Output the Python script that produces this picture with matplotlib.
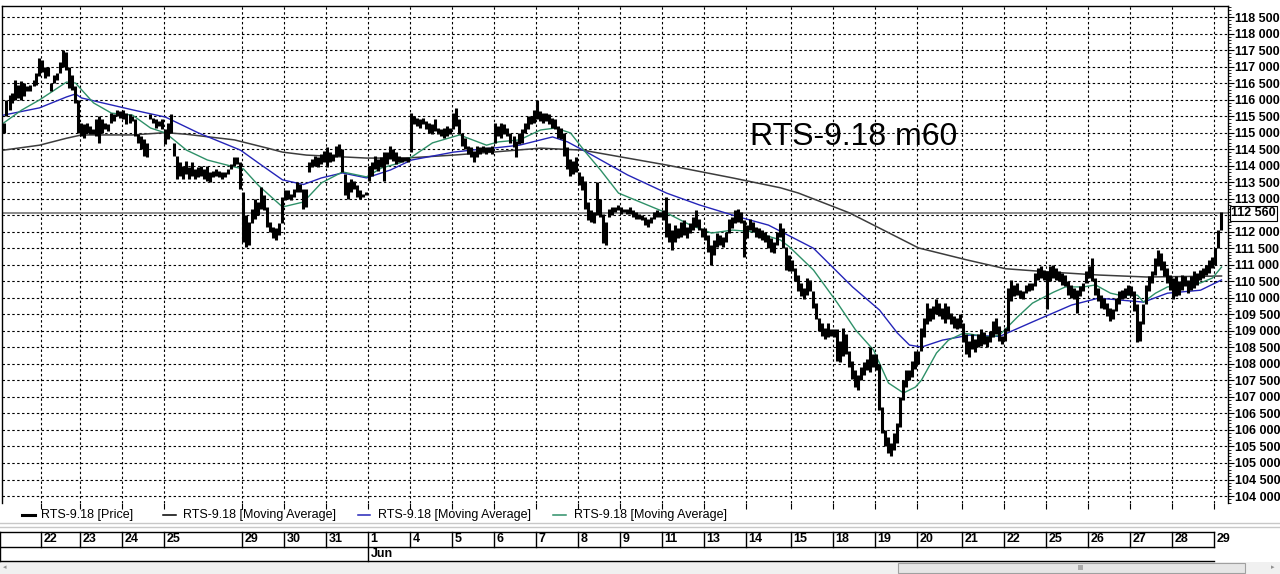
import matplotlib
matplotlib.use("Agg")
import matplotlib.pyplot as plt
from matplotlib.lines import Line2D
from matplotlib.patches import Rectangle
from matplotlib.ticker import MultipleLocator, FixedLocator, FuncFormatter
import numpy as np

plt.rcParams['font.family'] = ['Liberation Sans', 'DejaVu Sans']
plt.rcParams['font.weight'] = 'bold'

# ---------------- data ----------------
title = "RTS-9.18 m60"
legend_labels = ["RTS-9.18 [Price]", "RTS-9.18 [Moving Average]",
                 "RTS-9.18 [Moving Average]", "RTS-9.18 [Moving Average]"]
day_labels = ["", "22", "23", "24", "25", "29", "30", "31", "1", "4", "5", "6", "7", "8",
              "9", "11", "13", "14", "15", "18", "19", "20", "21", "22", "25", "26", "27",
              "28", "29"]
bars_per_day = [13, 13, 14, 14, 26, 14, 14, 14, 14, 14, 14, 14, 14, 14,
                14, 14, 14, 15, 14, 14, 14, 15, 14, 14, 14, 14, 14, 14, 3]
month_label = "Jun"
month_start_day = "1"

# hourly bars: low / high (one line per trading day)
bar_low = [
    115000, 115500, 115700, 115900, 116000, 116050, 116000, 116100, 116250, 116250, 116400, 116450, 116700,
    116850, 116650, 116700, 116250, 116500, 116600, 116800, 117000, 116900, 116350, 116300, 115900, 115000,
    114900, 114850, 115000, 114950, 114950, 114900, 114700, 115000, 115100, 115050, 115300, 115350, 115500, 115450,
    115400, 115250, 115300, 115350, 114900, 114700, 114500, 114300, 114250, 115400, 115300, 115150, 115200, 115100,
    114650, 114800, 115000, 114300, 113600, 113700, 113600, 113750, 113600, 113700, 113600, 113650, 113700, 113600,
    113550, 113500, 113650, 113700, 113650, 113600, 113650, 113750, 113900, 114000, 114050, 113300,
    111700, 111550, 111600, 112250, 112400, 112500, 112700, 112650, 112150, 112000, 111800, 111750, 111900, 112250,
    112950, 113000, 112950, 113050, 113200, 113200, 112700, 112750, 113800, 113950, 114000, 113950, 114050, 114100,
    113950, 114100, 114150, 114250, 114300, 113800, 113100, 113000, 113200, 113300, 113050, 113000, 113050, 113100,
    113550, 113700, 113900, 113850, 113950, 113550, 114050, 114200, 114150, 114050, 114100, 114100, 114150, 114100,
    114400, 115250, 115200, 115150, 115250, 115100, 115000, 114950, 115050, 114950, 114900, 114850, 114900, 114950,
    115100, 115200, 114950, 114600, 114500, 114350, 114250, 114100, 114250, 114350, 114400, 114350, 114400, 114350,
    114700, 114900, 114850, 114950, 114900, 114700, 114550, 114250, 114650, 114700, 115000, 115100, 115250, 115300,
    115400, 115350, 115300, 115350, 115250, 115150, 115100, 114850, 114800, 114300, 113900, 113700, 113750, 113800,
    113400, 113250, 112700, 112350, 112300, 112250, 112500, 112450, 111650, 111600, 112450, 112500, 112600, 112650,
    112550, 112600, 112550, 112550, 112450, 112400, 112400, 112350, 112200, 112150, 112250, 112400, 112450, 112450,
    112350, 111850, 111700, 111450, 111700, 111800, 111850, 111900, 111800, 111950, 112050, 112150, 112050, 111850,
    111750, 111400, 111000, 111300, 111550, 111600, 111550, 111700, 111950, 112100, 112250, 112300, 112250, 111250,
    111800, 112050, 112000, 111850, 111800, 111750, 111700, 111500, 111400, 111350, 111600, 111850, 111500, 110850, 110800,
    110800, 110500, 110200, 110050, 109950, 110100, 110200, 109700, 109350, 109000, 108850, 108750, 108800, 108850,
    108800, 108100, 108050, 108250, 108300, 107900, 107550, 107300, 107200, 107500, 107650, 107800, 107750, 107900,
    107800, 106600, 105900, 105500, 105300, 105200, 105400, 105600, 106100, 106900, 107300, 107500, 107600, 107850,
    108000, 108400, 108800, 109200, 109300, 109350, 109500, 109450, 109350, 109250, 109350, 109200, 109100, 109050, 109100,
    108650, 108300, 108200, 108450, 108350, 108500, 108550, 108600, 108500, 108650, 108800, 108900, 108700, 108600,
    108700, 109000, 109900, 110050, 110100, 110000, 109950, 110150, 110200, 110250, 110350, 110550, 110600, 110550,
    109650, 110500, 110600, 110550, 110500, 110400, 110350, 110100, 110000, 109950, 109550, 110050, 110200, 110450,
    110600, 110500, 110100, 109900, 109700, 109650, 109450, 109300, 109350, 109600, 109800, 109950, 110000, 110100,
    110050, 109600, 108650, 108700, 109200, 109800, 110200, 110450, 110700, 110950, 110850, 110650, 110450, 110250,
    109950, 110050, 110100, 110250, 110350, 110150, 110250, 110300, 110400, 110550, 110600, 110700, 110750, 110900,
    111000, 111500, 112050,
]
bar_high = [
    115300, 116000, 116150, 116200, 116600, 116450, 116550, 116500, 116400, 116450, 116600, 116800, 117250,
    117200, 117000, 117000, 116500, 116750, 116800, 117150, 117500, 117450, 117000, 116750, 116400, 116000,
    115300, 115250, 115300, 115200, 115100, 115400, 115500, 115400, 115300, 115250, 115600, 115550, 115700, 115650,
    115700, 115600, 115550, 115500, 115400, 114950, 114900, 114800, 114700, 115550, 115450, 115400, 115350, 115400,
    115100, 115300, 115550, 114700, 114300, 114100, 114000, 114150, 113950, 114100, 113900, 113950, 114000, 113900,
    114000, 113800, 113850, 113900, 113850, 113800, 113800, 113900, 114050, 114250, 114250, 114100,
    113200, 112500, 112300, 112700, 113000, 112900, 113350, 113100, 112750, 112300, 112150, 112100, 112250, 113050,
    113250, 113250, 113150, 113300, 113500, 113450, 113300, 113300, 114100, 114200, 114300, 114250, 114350, 114450,
    114550, 114400, 114350, 114600, 114650, 114500, 113750, 113500, 113600, 113550, 113400, 113250, 113150, 113200,
    114000, 114100, 114300, 114200, 114250, 114400, 114400, 114600, 114500, 114400, 114300, 114250, 114250, 114250,
    115600, 115500, 115450, 115400, 115450, 115350, 115300, 115250, 115400, 115150, 115100, 115150, 115200, 115150,
    115600, 115750, 115400, 115000, 114850, 114600, 114550, 114450, 114600, 114550, 114600, 114550, 114550, 114600,
    115300, 115200, 115300, 115250, 115150, 115000, 114900, 114750, 115000, 115100, 115300, 115500, 115500, 115700,
    116000, 115650, 115600, 115600, 115550, 115450, 115400, 115200, 115150, 115000, 114550, 114200, 114150, 114250,
    113800, 113700, 113550, 112900, 112650, 112600, 113500, 113000, 112550, 112300, 112700, 112750, 112750, 112800,
    112750, 112700, 112700, 112750, 112650, 112600, 112550, 112500, 112450, 112400, 112450, 112600, 112650, 112600,
    112650, 113050, 112250, 112050, 112200, 112100, 112300, 112350, 112150, 112250, 112450, 112650, 112400, 112100,
    112100, 111900, 111600, 111750, 111950, 111900, 111850, 112000, 112400, 112450, 112650, 112700, 112600, 112350,
    112200, 112400, 112300, 112150, 112100, 112050, 112000, 111900, 111800, 111700, 112000, 112250, 112100, 111550, 111300,
    111150, 110900, 110700, 110450, 110300, 110600, 110550, 110200, 109850, 109400, 109250, 109100, 109250, 109050,
    109050, 109050, 108700, 109100, 108900, 108400, 108100, 107800, 107650, 107900, 108050, 108150, 108500, 108300,
    108300, 108000, 106700, 106000, 105800, 105600, 105900, 106200, 107000, 107500, 107800, 107800, 108100, 108400,
    108400, 109100, 109400, 109850, 109700, 109750, 109950, 109850, 109700, 109850, 109750, 109550, 109450, 109400, 109500,
    109250, 108900, 108700, 108900, 108750, 108900, 109050, 108950, 108850, 109000, 109300, 109400, 109150, 108850,
    109100, 110300, 110550, 110400, 110450, 110250, 110200, 110400, 110450, 110450, 110750, 110900, 110950, 110850,
    110800, 110950, 111000, 110900, 110800, 110750, 110700, 110500, 110400, 110300, 110250, 110350, 110450, 110800,
    110950, 111200, 110600, 110300, 110100, 110000, 109850, 109700, 109650, 110000, 110200, 110250, 110300, 110400,
    110350, 110200, 109800, 109300, 109800, 110400, 110650, 110800, 111200, 111450, 111350, 111100, 110900, 110700,
    110600, 110650, 110500, 110700, 110650, 110550, 110650, 110800, 110750, 110850, 110900, 111000, 111150, 111250,
    111500, 112050, 112600,
]
last_price = 112560

# moving averages (bar index, value)
ma_long_bar = [0, 12, 21, 26, 43, 54, 61, 77, 88, 93, 101, 121, 134, 150, 163, 179, 193, 221,
               243, 259, 265, 282, 292, 305, 321, 334, 349, 365, 381, 406]
ma_long = [114470, 114620, 114830, 114930, 114930, 115000, 114950, 114780, 114530, 114410,
           114320, 114230, 114230, 114320, 114410, 114530, 114470, 114020, 113630, 113330,
           113170, 112570, 112110, 111510, 111150, 110880, 110780, 110690, 110630, 110660]
ma_mid_bar = [0, 12, 21, 24, 26, 33, 43, 54, 65, 79, 85, 93, 100, 106, 113, 121, 129, 136, 150,
              156, 165, 172, 183, 188, 195, 208, 221, 232, 245, 255, 270, 283, 292, 298, 302,
              306, 313, 322, 332, 343, 356, 365, 380, 388, 399, 406]
ma_mid = [115530, 115750, 116080, 116170, 116050, 115900, 115690, 115470, 114990, 114470,
          114080, 113570, 113430, 113630, 113780, 113630, 113870, 114170, 114410, 114470,
          114550, 114620, 114870, 114720, 114380, 113720, 113170, 112810, 112450, 112200,
          111500, 110330, 109630, 108930, 108570, 108510, 108720, 108870, 108830, 109270,
          109780, 109990, 109870, 110140, 110230, 110540]
ma_short_bar = [0, 6, 12, 21, 24, 30, 36, 43, 49, 54, 61, 68, 77, 80, 85, 93, 100, 106, 113,
                121, 126, 132, 136, 143, 152, 161, 165, 172, 179, 184, 189, 194, 199, 205, 213,
                221, 229, 236, 243, 250, 259, 262, 270, 278, 284, 290, 295, 300, 304, 306, 311,
                315, 320, 329, 332, 338, 343, 350, 354, 360, 364, 369, 372, 378, 380, 384, 388,
                394, 399, 403, 406]
ma_short = [115290, 115680, 115990, 116530, 116500, 115900, 115590, 115530, 115140, 114990,
            114470, 114170, 113960, 113900, 113400, 112750, 112900, 113480, 113810, 113660,
            113930, 114080, 114260, 114690, 114930, 114620, 114720, 114780, 115080, 115140,
            114990, 114410, 113870, 113170, 112870, 112570, 112200, 111960, 112050, 112000,
            111750, 111540, 110840, 109840, 109030, 108420, 107420, 107120, 107300, 107510,
            108330, 108720, 108930, 108810, 108870, 109420, 109840, 110170, 110330, 110330,
            110390, 110140, 110080, 110080, 109870, 110140, 110330, 110390, 110450, 110600,
            110930]

# ---------------- layout helpers ----------------
W, H = 1280, 574
fig = plt.figure(figsize=(W / 100, H / 100), dpi=100)
fig.patch.set_facecolor('white')


def fx(px):
    return px / W


def fy(py):
    return 1 - py / H


PX_L, PX_R, PX_T, PX_B = 2, 1228, 6, 503
ax = fig.add_axes([fx(PX_L), fy(PX_B), fx(PX_R) - fx(PX_L), fy(PX_T) - fy(PX_B)])

n_bars = len(bar_low)
bar_x = np.arange(n_bars) + 0.5
bounds = np.cumsum(bars_per_day)
day_starts = np.concatenate([[0], bounds[:-1]])

# grid
grid_style = dict(color='black', linewidth=0.8, linestyle=(0, (2.2, 2.2)))
ax.set_xlim(0, (PX_R - PX_L) / 3.0)
ax.set_ylim(103789, 118833)
ax.yaxis.set_major_locator(MultipleLocator(500))
ax.yaxis.set_minor_locator(MultipleLocator(100))
ax.xaxis.set_major_locator(FixedLocator(day_starts[1:]))
ax.grid(True, which='major', **grid_style)
ax.set_axisbelow(True)

# moving averages
ax.plot(np.array(ma_long_bar) + 0.5, ma_long, color='#3c3c3c', lw=1.1, zorder=3)
ax.plot(np.array(ma_mid_bar) + 0.5, ma_mid, color='#2424b8', lw=1.0, zorder=3)
ax.plot(np.array(ma_short_bar) + 0.5, ma_short, color='#2e9068', lw=1.0, zorder=3)

# price bars
ax.vlines(bar_x, bar_low, bar_high, color='black', linewidth=2.2, zorder=4,
          capstyle='butt')

# last price line
ax.axhline(last_price, color='#8a8a8a', lw=1.4, zorder=2)

# axes styling
for side in ['top', 'left', 'right']:
    ax.spines[side].set_color('black')
    ax.spines[side].set_linewidth(1.0)
ax.spines['bottom'].set_visible(False)
ax.yaxis.tick_right()
ax.tick_params(axis='y', which='major', direction='out', length=4, width=0.8, pad=1,
               labelsize=9, colors='black')
ax.tick_params(axis='y', which='minor', direction='out', length=2.5, width=0.6)
ax.tick_params(axis='x', which='major', direction='out', length=4, width=0.8,
               labelbottom=False)


def fmt(v, pos):
    if abs(v - 112500) < 1:
        return ""
    return f"{v:,.0f}".replace(",", " ")


ax.yaxis.set_major_formatter(FuncFormatter(fmt))

ax.text(1.0 + 3.0 / (PX_R - PX_L), last_price, f"{last_price:,}".replace(",", " "),
        transform=ax.get_yaxis_transform(),
        ha='left', va='center', fontsize=9, fontweight='bold', color='black', zorder=6,
        bbox=dict(boxstyle='square,pad=0.12', facecolor='white', edgecolor='black', lw=0.8),
        clip_on=False)

fig.text(fx(750), fy(137), title, fontsize=23, fontweight='normal', ha='left', va='center',
         color='black')

# ---------------- legend row ----------------
leg_y = fy(515)
leg_items = [(22, 35, 41, 'black', 2.2), (163, 176, 183, 'black', 1.1),
             (358, 370, 378, '#2424b8', 1.1), (553, 566, 574, '#2e9068', 1.1)]
for (x0, x1, xt, c, lw), lab in zip(leg_items, legend_labels):
    fig.add_artist(Line2D([fx(x0), fx(x1)], [leg_y, leg_y], color=c, lw=lw,
                          transform=fig.transFigure))
    fig.text(fx(xt), leg_y, lab, fontsize=9, fontweight='normal', ha='left', va='center',
             color='black')

for yy in (523, 527):
    fig.add_artist(Line2D([0, 1], [fy(yy), fy(yy)], color='#c8c8c8', lw=1.0,
                          transform=fig.transFigure))

# ---------------- date strip ----------------
strip = fig.add_axes([fx(PX_L), fy(561), fx(PX_R) - fx(PX_L), fy(532) - fy(561)])
strip.set_xlim(ax.get_xlim())
strip.set_ylim(0, 2)
strip.axis('off')
end_x = day_starts[-1]
left_x = strip.get_xlim()[0] - 0.6
for yy in (0, 1, 2):
    strip.plot([left_x, end_x], [yy, yy], color='black', lw=1.0, clip_on=False)
strip.plot([left_x, left_x], [0, 2], color='black', lw=1.0, clip_on=False)
for s in day_starts[1:]:
    strip.plot([s, s], [1, 2], color='black', lw=1.0, clip_on=False)
for s, lab in zip(day_starts, day_labels):
    if lab:
        strip.text(s + 0.9, 1.5, lab, fontsize=9, ha='left', va='center',
                   color='black', clip_on=False)
jun_idx = day_labels.index(month_start_day, 5)
jun_x = day_starts[jun_idx]
strip.plot([jun_x, jun_x], [0, 1], color='black', lw=1.0, clip_on=False)
strip.text(jun_x + 0.9, 0.5, month_label, fontsize=9, ha='left',
           va='center', color='black')

# ---------------- scrollbar ----------------
ov = fig.add_axes([0, 0, 1, 1], zorder=-1)
ov.set_xlim(0, W)
ov.set_ylim(H, 0)
ov.axis('off')
ov.add_patch(Rectangle((0, 562), W, 12, facecolor='#f0f0f0', edgecolor='none'))
ov.add_patch(Rectangle((898, 563), 347, 10, facecolor='#e6e6e6', edgecolor='#a0a0a0', lw=0.8))
ov.text(1080, 568, "III", fontsize=5, ha='center', va='center', color='#707070')
ov.text(5, 568, "\u25c2", fontsize=5, ha='center', va='center', color='#909090')
ov.text(1273, 568, "\u25b8", fontsize=5, ha='center', va='center', color='#909090')

fig.canvas.draw()
for t in ax.get_yticklabels():
    t.set_fontweight('bold')

fig.savefig("out.png", dpi=100, facecolor='white')
